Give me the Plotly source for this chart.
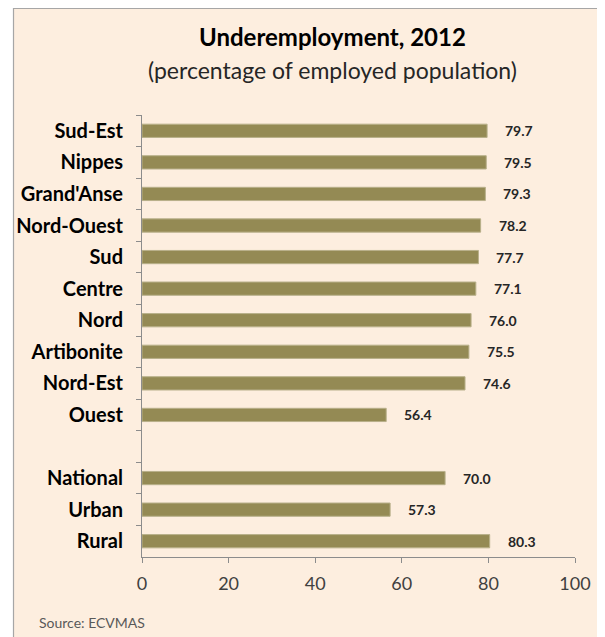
import plotly.graph_objects as go

categories = ["Sud-Est", "Nippes", "Grand'Anse", "Nord-Ouest", "Sud", "Centre", "Nord",
              "Artibonite", "Nord-Est", "Ouest", " ", "National", "Urban", "Rural"]
values = [79.7, 79.5, 79.3, 78.2, 77.7, 77.1, 76.0, 75.5, 74.6, 56.4, None, 70.0, 57.3, 80.3]
x_ticks = [0, 20, 40, 60, 80, 100]

# page body has an 8px margin; positions below are in figure pixels
OFF = 8
W, H = 605, 637
L = 142 - OFF
R = W - (575 - OFF)
T = 115 - OFF
B = H - (557 - OFF)
pw, ph = W - L - R, H - T - B

def px_x(px):
    return (px - OFF - L) / pw

def px_y(py):
    return (H - B - (py - OFF)) / ph

BG = "#FDEEDF"
FONT = "Lato"

fig = go.Figure()
fig.add_trace(go.Bar(
    x=values, y=categories, orientation="h",
    marker=dict(color="#948A54", line=dict(color="#B8B08A", width=1)),
    width=0.42, hoverinfo="skip",
))

for c, v in zip(categories, values):
    if v is None:
        continue
    fig.add_annotation(x=v, y=c, xref="x", yref="y", text=f"{v:.1f}", showarrow=False,
                       xanchor="left", xshift=16,
                       font=dict(family=FONT, size=14, color="#262626", weight="bold"))

# panel
fig.add_shape(type="rect", xref="paper", yref="paper", layer="below",
              x0=px_x(13.5), x1=px_x(W + 20), y0=px_y(H + 20), y1=px_y(8.5),
              fillcolor=BG, line=dict(color="#A6A6A6", width=1.2))

fig.add_annotation(xref="paper", yref="paper", x=px_x(332), y=px_y(37), text="<b>Underemployment, 2012</b>",
                   showarrow=False, xanchor="center", yanchor="middle",
                   font=dict(family=FONT, size=24, color="#000000"))
fig.add_annotation(xref="paper", yref="paper", x=px_x(332), y=px_y(70), text="(percentage of employed population)",
                   showarrow=False, xanchor="center", yanchor="middle",
                   font=dict(family=FONT, size=23, color="#262626"))
fig.add_annotation(xref="paper", yref="paper", x=px_x(37), y=px_y(622), text="Source: ECVMAS",
                   showarrow=False, xanchor="left", yanchor="middle",
                   font=dict(family=FONT, size=14, color="#595959"))

fig.update_layout(
    width=W, height=H,
    margin=dict(l=L, r=R, t=T, b=B, pad=0, autoexpand=False),
    paper_bgcolor="white", plot_bgcolor="rgba(0,0,0,0)",
    showlegend=False,
    bargap=0.58,
    xaxis=dict(range=[0, 100], tickvals=x_ticks, ticks="outside", ticklen=5, tickcolor="#8C8C8C",
               showline=True, linecolor="#8C8C8C", linewidth=1, showgrid=False, zeroline=False,
               ticklabelstandoff=5, automargin=False,
               tickfont=dict(family=FONT, size=18, color="#404040"), fixedrange=True),
    yaxis=dict(type="category", categoryorder="array", categoryarray=categories,
               autorange="reversed", ticks="outside", ticklen=5, tickcolor="#8C8C8C",
               tickson="boundaries", showline=True, linecolor="#8C8C8C", linewidth=1,
               showgrid=False, ticklabelstandoff=14, automargin=False,
               tickfont=dict(family=FONT, size=20, color="#000000", weight="bold"), fixedrange=True),
)

fig.write_html("out.html")
